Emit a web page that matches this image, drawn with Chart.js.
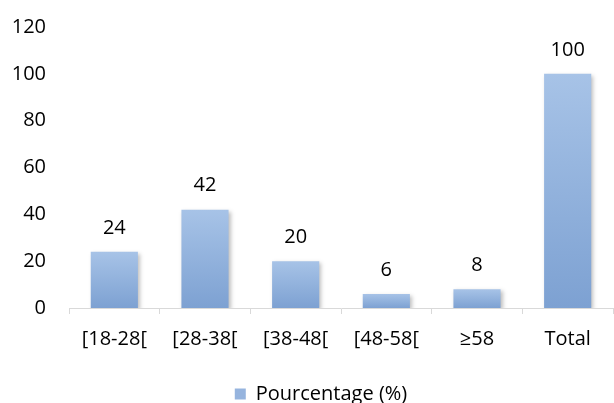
<!DOCTYPE html>
<html>
<head>
<meta charset="utf-8">
<script src="https://cdn.jsdelivr.net/npm/chart.js@4/dist/chart.umd.min.js"></script>
<style>
  html, body { margin: 0; padding: 0; background: #fff; overflow: hidden; }
  #wrap { width: 614px; height: 403px; overflow: hidden; }
</style>
</head>
<body>
<div id="wrap"><canvas id="ageChart" width="614" height="414"></canvas></div>
<script>
// Données
const categories = ['[18-28[', '[28-38[', '[38-48[', '[48-58[', '≥58', 'Total'];
const pourcentages = [24, 42, 20, 6, 8, 100];
const yTicks = [0, 20, 40, 60, 80, 100, 120];

const FONT = '"Open Sans", "DejaVu Sans", sans-serif';
const barTop = 'rgb(167,195,231)';
const barBottom = 'rgb(125,161,210)';

// Valeur affichée au-dessus de chaque barre
const dataLabels = {
    id: 'dataLabels',
    afterDatasetsDraw(chart) {
        const ctx = chart.ctx;
        chart.data.datasets.forEach((dataset, i) => {
            const meta = chart.getDatasetMeta(i);
            if (meta.hidden) return;
            meta.data.forEach((bar, index) => {
                ctx.save();
                ctx.font = '20px ' + FONT;
                ctx.fillStyle = '#000';
                ctx.textAlign = 'center';
                ctx.textBaseline = 'middle';
                ctx.fillText(String(dataset.data[index]), bar.x, bar.y - 24);
                ctx.restore();
            });
        });
    }
};

// Ombre légère sous les barres (style Excel)
const barShadow = {
    id: 'barShadow',
    beforeDatasetDraw(chart) {
        const ctx = chart.ctx;
        ctx.save();
        ctx.shadowColor = 'rgba(0,0,0,0.25)';
        ctx.shadowBlur = 4;
        ctx.shadowOffsetX = 2;
        ctx.shadowOffsetY = 2;
    },
    afterDatasetDraw(chart) {
        chart.ctx.restore();
    }
};

// Légende centrée sur la zone de tracé plutôt que sur tout le canvas
const legendShift = {
    id: 'legendShift',
    beforeDraw(chart) {
        if (chart.legend) {
            chart.legend.left += 8;
            chart.legend.right += 8;
        }
    }
};

function barGradient(c) {
    const chart = c.chart;
    const { ctx, chartArea, scales } = chart;
    if (!chartArea || c.raw === undefined) return barTop;
    const yTop = scales.y.getPixelForValue(c.raw);
    const yBase = scales.y.getPixelForValue(0);
    const g = ctx.createLinearGradient(0, yTop, 0, yBase);
    g.addColorStop(0, barTop);
    g.addColorStop(1, barBottom);
    return g;
}

new Chart(document.getElementById('ageChart'), {
    type: 'bar',
    data: {
        labels: categories,
        datasets: [{
            label: 'Pourcentage (%)',
            data: pourcentages,
            backgroundColor: barGradient,
            borderWidth: 0,
            barPercentage: 0.52,
            categoryPercentage: 1
        }]
    },
    options: {
        responsive: false,
        animation: false,
        layout: { padding: { top: 27, left: 13, right: 1, bottom: 0 } },
        plugins: {
            tooltip: { enabled: false },
            legend: {
                position: 'bottom',
                labels: {
                    font: { family: FONT, size: 20 },
                    color: '#000',
                    boxWidth: 11,
                    boxHeight: 11,
                    padding: 20,
                    generateLabels: (chart) => [{
                        text: 'Pourcentage (%)',
                        fillStyle: 'rgb(150,180,222)',
                        strokeStyle: 'rgb(150,180,222)',
                        lineWidth: 0,
                        datasetIndex: 0
                    }]
                }
            }
        },
        scales: {
            x: {
                grid: {
                    display: true,
                    drawOnChartArea: false,
                    drawTicks: true,
                    tickLength: 6,
                    color: '#D9D9D9',
                    offset: true
                },
                border: { display: true, color: '#D9D9D9', width: 1 },
                ticks: {
                    font: { family: FONT, size: 20 },
                    color: '#000',
                    padding: 13,
                    maxRotation: 0
                }
            },
            y: {
                min: 0,
                max: 120,
                afterBuildTicks: (scale) => { scale.ticks = yTicks.map(v => ({ value: v })); },
                afterFit: (scale) => {
                    scale.width = 56;
                    scale.paddingTop = 0;
                    scale.paddingBottom = 0;
                },
                grid: { display: false, drawTicks: false },
                border: { display: false },
                ticks: {
                    font: { family: FONT, size: 20 },
                    color: '#000',
                    padding: 23
                }
            }
        }
    },
    plugins: [barShadow, dataLabels, legendShift]
});
</script>
</body>
</html>
